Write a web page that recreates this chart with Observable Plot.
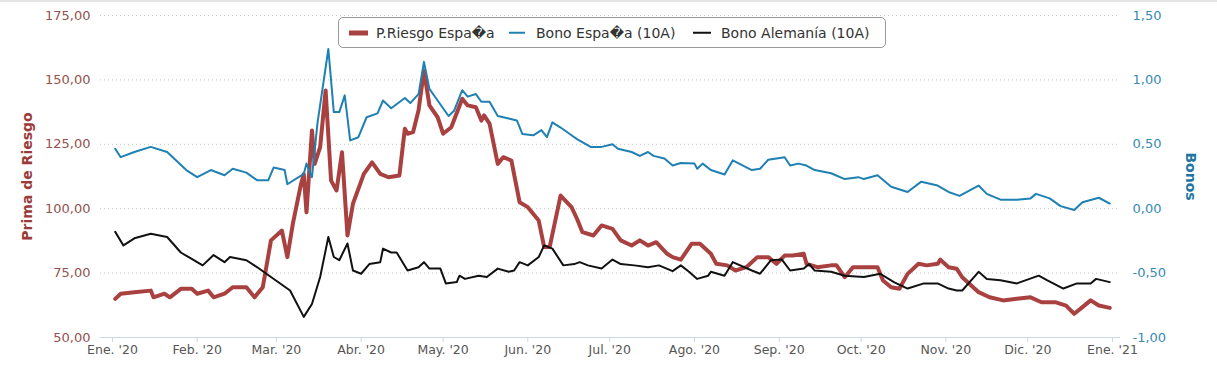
<!DOCTYPE html>
<html>
<head>
<meta charset="utf-8">
<script src="https://cdn.jsdelivr.net/npm/d3@7"></script>
<script src="https://cdn.jsdelivr.net/npm/@observablehq/plot@0.6"></script>
<style>
  body { margin: 0; background: #fff; font-family: "DejaVu Sans", sans-serif; }
  #wrap { position: relative; width: 1217px; height: 377px; overflow: hidden; }
  #topline { position: absolute; left: 0; top: 0; width: 1217px; height: 2px; background: #e4e4e4; }
  #legend { position: absolute; left: 338px; top: 17px; width: 546px; height: 29px; border: 1px solid #9a9a9a;
            border-radius: 5px; background: #fff; font-size: 14px; color: #333; }
  #legend .sw { position: absolute; top: 50%; transform: translateY(-50%); }
  #legend .tx { position: absolute; top: 50%; transform: translateY(-50%); white-space: nowrap; }
</style>
</head>
<body>
<div id="wrap">
  <div id="chart"></div>
  <div id="topline"></div>
  <div id="legend"></div>
</div>
<script>
// ---------- data ----------
const seriesNames = ["P.Riesgo Espa\uFFFDa", "Bono Espa\uFFFDa (10A)", "Bono Alemanía (10A)"];
const leftTitle = "Prima de Riesgo";
const rightTitle = "Bonos";
const monthLabels = ["Ene.", "Feb.", "Mar.", "Abr.", "May.", "Jun.", "Jul.", "Ago.", "Sep.", "Oct.", "Nov.", "Dic."];
const leftTicks = [50, 75, 100, 125, 150, 175];
const rightTicks = [-1, -0.5, 0, 0.5, 1, 1.5];

const riesgoDates = ["2020-01-02","2020-01-04","2020-01-09","2020-01-15","2020-01-16","2020-01-20","2020-01-22","2020-01-26","2020-01-30","2020-02-01","2020-02-05","2020-02-07","2020-02-11","2020-02-14","2020-02-19","2020-02-22","2020-02-25","2020-02-28","2020-03-03","2020-03-05","2020-03-07","2020-03-10","2020-03-11","2020-03-12","2020-03-14","2020-03-15","2020-03-17","2020-03-19","2020-03-21","2020-03-23","2020-03-25","2020-03-27","2020-03-29","2020-04-02","2020-04-05","2020-04-08","2020-04-11","2020-04-15","2020-04-17","2020-04-18","2020-04-20","2020-04-22","2020-04-24","2020-04-26","2020-04-29","2020-05-01","2020-05-04","2020-05-08","2020-05-10","2020-05-13","2020-05-15","2020-05-16","2020-05-18","2020-05-21","2020-05-23","2020-05-26","2020-05-29","2020-06-01","2020-06-05","2020-06-07","2020-06-09","2020-06-13","2020-06-17","2020-06-19","2020-06-21","2020-06-25","2020-06-28","2020-07-02","2020-07-05","2020-07-09","2020-07-12","2020-07-15","2020-07-18","2020-07-22","2020-07-24","2020-07-27","2020-07-31","2020-08-03","2020-08-07","2020-08-09","2020-08-13","2020-08-16","2020-08-20","2020-08-24","2020-08-28","2020-08-31","2020-09-03","2020-09-06","2020-09-10","2020-09-11","2020-09-15","2020-09-20","2020-09-22","2020-09-25","2020-09-28","2020-10-03","2020-10-07","2020-10-09","2020-10-12","2020-10-15","2020-10-18","2020-10-22","2020-10-25","2020-10-29","2020-10-30","2020-11-02","2020-11-05","2020-11-07","2020-11-13","2020-11-17","2020-11-22","2020-11-27","2020-12-02","2020-12-06","2020-12-11","2020-12-15","2020-12-18","2020-12-21","2020-12-24","2020-12-27","2020-12-31"];
const riesgoValues = [65.0,67.0,67.6,68.2,65.6,67.0,65.6,68.9,68.9,67.0,68.2,65.6,67.0,69.5,69.5,65.6,69.5,87.7,91.5,81.2,94.1,109.6,113.5,98.6,130.4,117.4,123.9,145.9,110.9,107.1,121.9,89.6,101.9,113.5,118.0,113.5,112.2,112.9,131.0,129.1,129.7,138.1,153.6,140.1,135.5,129.1,131.6,142.7,140.1,139.4,134.2,136.2,133.0,117.4,120.0,118.7,102.5,100.6,95.4,85.1,85.1,105.1,100.6,96.1,90.9,89.6,93.5,92.2,87.7,85.7,87.7,85.7,87.0,82.5,81.2,80.2,86.4,86.4,82.5,78.6,78.0,76.0,77.3,81.2,81.2,78.6,81.8,81.8,82.5,78.6,77.3,78.0,78.0,73.4,77.3,77.3,77.3,72.1,69.5,68.9,74.7,78.6,78.0,78.6,80.2,77.3,76.7,73.4,67.6,65.6,64.4,65.0,65.6,63.7,63.7,62.4,59.2,61.8,64.4,62.4,61.5];

const bonoEsDates = ["2020-01-02","2020-01-04","2020-01-09","2020-01-15","2020-01-21","2020-01-25","2020-01-28","2020-02-01","2020-02-06","2020-02-11","2020-02-14","2020-02-19","2020-02-23","2020-02-27","2020-02-29","2020-03-04","2020-03-05","2020-03-11","2020-03-12","2020-03-14","2020-03-16","2020-03-20","2020-03-22","2020-03-24","2020-03-26","2020-03-28","2020-03-31","2020-04-03","2020-04-07","2020-04-09","2020-04-12","2020-04-17","2020-04-19","2020-04-22","2020-04-24","2020-04-26","2020-04-29","2020-05-03","2020-05-05","2020-05-08","2020-05-10","2020-05-13","2020-05-15","2020-05-18","2020-05-21","2020-05-25","2020-05-28","2020-05-30","2020-06-03","2020-06-06","2020-06-08","2020-06-10","2020-06-13","2020-06-17","2020-06-19","2020-06-24","2020-06-28","2020-07-02","2020-07-04","2020-07-09","2020-07-12","2020-07-15","2020-07-17","2020-07-21","2020-07-24","2020-07-27","2020-08-01","2020-08-02","2020-08-04","2020-08-07","2020-08-12","2020-08-15","2020-08-22","2020-08-25","2020-08-28","2020-09-03","2020-09-05","2020-09-08","2020-09-11","2020-09-14","2020-09-20","2020-09-25","2020-09-30","2020-10-02","2020-10-07","2020-10-12","2020-10-18","2020-10-23","2020-10-29","2020-11-02","2020-11-06","2020-11-13","2020-11-16","2020-11-21","2020-11-27","2020-12-02","2020-12-04","2020-12-09","2020-12-13","2020-12-18","2020-12-21","2020-12-27","2020-12-31"];
const bonoEsValues = [0.465,0.40,0.44,0.48,0.44,0.36,0.30,0.245,0.30,0.26,0.31,0.28,0.22,0.22,0.32,0.30,0.19,0.27,0.35,0.245,0.66,1.24,0.75,0.75,0.88,0.53,0.555,0.71,0.74,0.84,0.78,0.86,0.82,0.89,1.14,0.93,0.84,0.72,0.76,0.92,0.87,0.89,0.83,0.83,0.72,0.70,0.685,0.58,0.57,0.61,0.555,0.67,0.63,0.57,0.54,0.48,0.48,0.50,0.465,0.44,0.41,0.44,0.41,0.39,0.335,0.355,0.35,0.31,0.35,0.30,0.265,0.375,0.30,0.31,0.38,0.40,0.335,0.35,0.335,0.30,0.275,0.23,0.245,0.23,0.26,0.17,0.13,0.21,0.18,0.13,0.10,0.18,0.115,0.07,0.07,0.08,0.115,0.08,0.02,-0.01,0.05,0.085,0.04];

const bonoDeDates = ["2020-01-02","2020-01-05","2020-01-09","2020-01-15","2020-01-21","2020-01-26","2020-01-30","2020-02-03","2020-02-07","2020-02-11","2020-02-13","2020-02-19","2020-02-23","2020-02-28","2020-03-06","2020-03-11","2020-03-14","2020-03-17","2020-03-20","2020-03-22","2020-03-24","2020-03-27","2020-03-29","2020-04-01","2020-04-04","2020-04-08","2020-04-09","2020-04-12","2020-04-14","2020-04-18","2020-04-22","2020-04-24","2020-04-26","2020-04-30","2020-05-02","2020-05-06","2020-05-07","2020-05-09","2020-05-14","2020-05-17","2020-05-21","2020-05-25","2020-05-27","2020-05-29","2020-06-01","2020-06-05","2020-06-07","2020-06-10","2020-06-14","2020-06-18","2020-06-20","2020-06-23","2020-06-28","2020-07-02","2020-07-05","2020-07-10","2020-07-15","2020-07-19","2020-07-24","2020-07-27","2020-07-30","2020-08-02","2020-08-06","2020-08-07","2020-08-12","2020-08-15","2020-08-22","2020-08-25","2020-08-29","2020-09-02","2020-09-05","2020-09-10","2020-09-12","2020-09-14","2020-09-20","2020-09-25","2020-10-02","2020-10-08","2020-10-13","2020-10-18","2020-10-24","2020-10-29","2020-11-02","2020-11-05","2020-11-07","2020-11-13","2020-11-16","2020-11-21","2020-11-27","2020-12-05","2020-12-08","2020-12-14","2020-12-19","2020-12-24","2020-12-26","2020-12-31"];
const bonoDeValues = [-0.18,-0.285,-0.23,-0.195,-0.22,-0.34,-0.39,-0.44,-0.36,-0.415,-0.375,-0.40,-0.455,-0.53,-0.635,-0.84,-0.74,-0.53,-0.22,-0.375,-0.40,-0.27,-0.48,-0.505,-0.43,-0.415,-0.31,-0.34,-0.34,-0.48,-0.455,-0.415,-0.465,-0.465,-0.58,-0.57,-0.52,-0.545,-0.52,-0.53,-0.465,-0.49,-0.48,-0.415,-0.44,-0.375,-0.285,-0.31,-0.44,-0.43,-0.415,-0.44,-0.465,-0.395,-0.43,-0.44,-0.455,-0.44,-0.485,-0.44,-0.49,-0.545,-0.52,-0.49,-0.52,-0.415,-0.48,-0.505,-0.40,-0.395,-0.48,-0.465,-0.43,-0.48,-0.49,-0.52,-0.53,-0.505,-0.57,-0.62,-0.58,-0.58,-0.62,-0.635,-0.635,-0.49,-0.545,-0.555,-0.58,-0.52,-0.555,-0.62,-0.58,-0.58,-0.545,-0.57];

// ---------- styling ----------
const colors = ["#a8413f", "#1f80b4", "#111111"];
const leftColor = "#94524f", leftTitleColor = "#9a3b39";
const rightColor = "#3a8ab3", rightTitleColor = "#1f76a3";

const table = (dates, values) => dates.map((d, i) => ({date: d3.isoParse(d), v: values[i]}));
const riesgo = table(riesgoDates, riesgoValues);
const bonoEs = table(bonoEsDates, bonoEsValues);
const bonoDe = table(bonoDeDates, bonoDeValues);

// the bond axis (right) maps linearly onto the risk-premium axis (left)
const toLeft = b => 100 + 50 * b;
const locale = d3.formatLocale({decimal: ",", thousands: ".", grouping: [3], currency: ["", ""], minus: "-"});
const f2 = locale.format(".2f");

const monthTicks = d3.utcMonth.range(new Date(Date.UTC(2020, 0, 1)), new Date(Date.UTC(2021, 0, 2)));
const fmtMonth = d => `${monthLabels[d.getUTCMonth()]} '${String(d.getUTCFullYear()).slice(2)}`;

const chart = Plot.plot({
  width: 1217,
  height: 377,
  marginTop: 15,
  marginBottom: 40,
  marginLeft: 100,
  marginRight: 97,
  style: {fontFamily: "DejaVu Sans, sans-serif", background: "#fff"},
  x: {type: "utc", domain: [new Date(Date.UTC(2019, 11, 27, 14, 35)), new Date(Date.UTC(2021, 0, 3, 22, 16))]},
  y: {domain: [50, 175]},
  marks: [
    Plot.gridY(leftTicks.filter(t => t > 50), {stroke: "#c4c4c4", strokeOpacity: 1, strokeDasharray: "1,3"}),
    Plot.ruleY([50], {stroke: "#ccd6eb"}),
    Plot.axisX({ticks: monthTicks, tickFormat: fmtMonth, tickSize: 5, tickPadding: 3, stroke: "#ccd6eb", fill: "#555", fontSize: 12.5, label: null}),
    Plot.axisY({anchor: "left", ticks: leftTicks, tickFormat: f2, tickSize: 0, tickPadding: 10, fill: leftColor, fontSize: 13, label: null}),
    Plot.axisY({anchor: "right", ticks: rightTicks.map(toLeft), tickFormat: v => f2((v - 100) / 50), tickSize: 0, tickPadding: 12, fill: rightColor, fontSize: 13, label: null}),
    Plot.text([leftTitle], {frameAnchor: "left", textAnchor: "middle", rotate: -90, dx: -73, fill: leftTitleColor, fontWeight: "bold", fontSize: 14}),
    Plot.text([rightTitle], {frameAnchor: "right", textAnchor: "middle", rotate: 90, dx: 70, fill: rightTitleColor, fontWeight: "bold", fontSize: 14}),
    Plot.line(riesgo, {x: "date", y: "v", stroke: colors[0], strokeWidth: 4, strokeLinejoin: "round"}),
    Plot.line(bonoEs, {x: "date", y: d => toLeft(d.v), stroke: colors[1], strokeWidth: 2, strokeLinejoin: "round"}),
    Plot.line(bonoDe, {x: "date", y: d => toLeft(d.v), stroke: colors[2], strokeWidth: 2, strokeLinejoin: "round"})
  ]
});
document.getElementById("chart").appendChild(chart);

// ---------- legend ----------
const legend = document.getElementById("legend");
const items = [
  {sw: 10, sww: 19, swh: 5, tx: 37},
  {sw: 170, sww: 16, swh: 2.5, tx: 197},
  {sw: 354, sww: 18, swh: 2.5, tx: 382}
];
items.forEach((it, i) => {
  const s = document.createElement("div");
  s.className = "sw";
  s.style.left = it.sw + "px";
  s.style.width = it.sww + "px";
  s.style.height = it.swh + "px";
  s.style.background = colors[i];
  legend.appendChild(s);
  const t = document.createElement("div");
  t.className = "tx";
  t.style.left = it.tx + "px";
  t.textContent = seriesNames[i];
  legend.appendChild(t);
});
</script>
</body>
</html>
